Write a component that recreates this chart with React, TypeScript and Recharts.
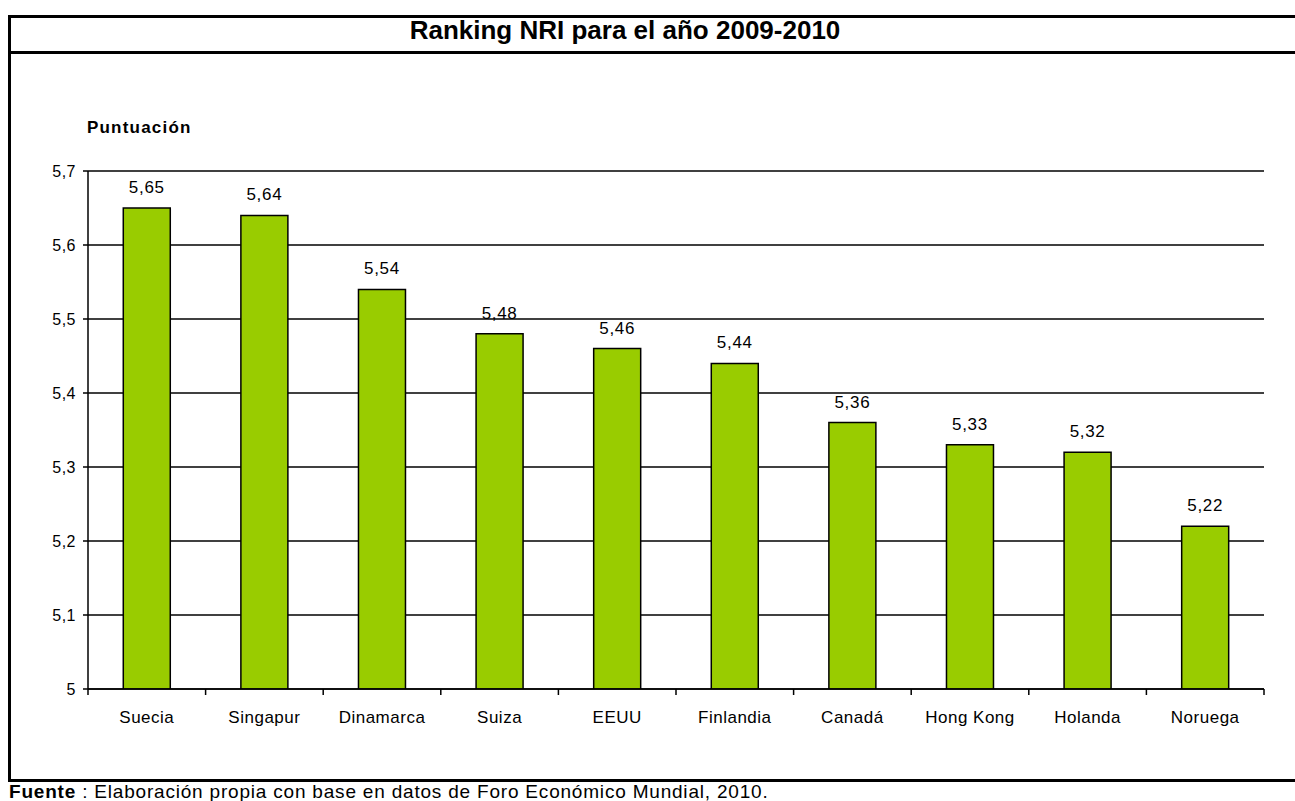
import { BarChart, Bar, XAxis, YAxis, CartesianGrid, LabelList } from 'recharts';

const countries = ['Suecia', 'Singapur', 'Dinamarca', 'Suiza', 'EEUU', 'Finlandia', 'Canadá', 'Hong Kong', 'Holanda', 'Noruega'];
const scores = [5.65, 5.64, 5.54, 5.48, 5.46, 5.44, 5.36, 5.33, 5.32, 5.22];
const yTicks = [5, 5.1, 5.2, 5.3, 5.4, 5.5, 5.6, 5.7];

const data = countries.map((name, i) => ({ name, score: scores[i] }));

const font = '"Liberation Sans", Arial, sans-serif';
const comma = (v: number) => String(v).replace('.', ',');

function CategoryTick(props: any) {
  const { x, y, payload, index } = props;
  const half = payload.offset ?? 0;
  return (
    <g>
      <line x1={x - half} y1={y - 8} x2={x - half} y2={y - 2} stroke="#000" strokeWidth={1.5} />
      {index === countries.length - 1 && (
        <line x1={x + half} y1={y - 8} x2={x + half} y2={y - 2} stroke="#000" strokeWidth={1.5} />
      )}
      <text x={x} y={y + 26} textAnchor="middle" fontSize={17} letterSpacing={0.5} fontFamily={font} fill="#000">
        {payload.value}
      </text>
    </g>
  );
}

export default function App() {
  return (
    <div style={{ position: 'absolute', left: 0, top: 0, width: 1295, height: 801, background: '#fff', fontFamily: font }}>
      <div style={{ position: 'absolute', left: 8, top: 15, width: 1287, height: 3, background: '#000' }} />
      <div style={{ position: 'absolute', left: 8, top: 51, width: 1287, height: 3, background: '#000' }} />
      <div style={{ position: 'absolute', left: 8, top: 779, width: 1287, height: 3, background: '#000' }} />
      <div style={{ position: 'absolute', left: 8, top: 15, width: 3, height: 767, background: '#000' }} />
      <div
        style={{ position: 'absolute', left: 11, top: 14, width: 1228, height: 33, lineHeight: '33px', textAlign: 'center', fontWeight: 'bold', fontSize: 26 }}
      >
        Ranking NRI para el año 2009-2010
      </div>
      <div style={{ position: 'absolute', left: 87, top: 118, fontWeight: 'bold', fontSize: 17, letterSpacing: 1.2 }}>Puntuación</div>
      <div style={{ position: 'absolute', left: 9, top: 781, fontSize: 19, letterSpacing: 0.8, whiteSpace: 'nowrap' }}>
        <b>Fuente</b> : Elaboración propia con base en datos de Foro Económico Mundial, 2010.
      </div>
      <div style={{ position: 'absolute', left: 0, top: 0 }}>
        <BarChart
          width={1295}
          height={801}
          data={data}
          margin={{ top: 171, right: 31, bottom: 82, left: 0 }}
          barCategoryGap="30%"
        >
          <CartesianGrid horizontal vertical={false} stroke="#000" strokeWidth={1.5} strokeOpacity={1} />
          <XAxis
            dataKey="name"
            height={30}
            axisLine={{ stroke: '#000', strokeWidth: 1.5 }}
            tickLine={false}
            tick={<CategoryTick />}
            interval={0}
          />
          <YAxis
            width={88}
            domain={[5, 5.7]}
            ticks={yTicks}
            allowDataOverflow
            tickFormatter={comma}
            tickSize={5}
            tickMargin={7}
            axisLine={{ stroke: '#000', strokeWidth: 1.5 }}
            tickLine={{ stroke: '#000', strokeWidth: 1.5 }}
            tick={{ fill: '#000', fontSize: 16, letterSpacing: 0.5, fontFamily: font }}
          />
          <Bar dataKey="score" fill="#99CC00" stroke="#000" strokeWidth={1.5} isAnimationActive={false}>
            <LabelList
              dataKey="score"
              position="top"
              offset={15}
              formatter={(v: any) => comma(v)}
              fill="#000"
              fontSize={17}
              letterSpacing={0.7}
              fontFamily={font}
            />
          </Bar>
        </BarChart>
      </div>
    </div>
  );
}
